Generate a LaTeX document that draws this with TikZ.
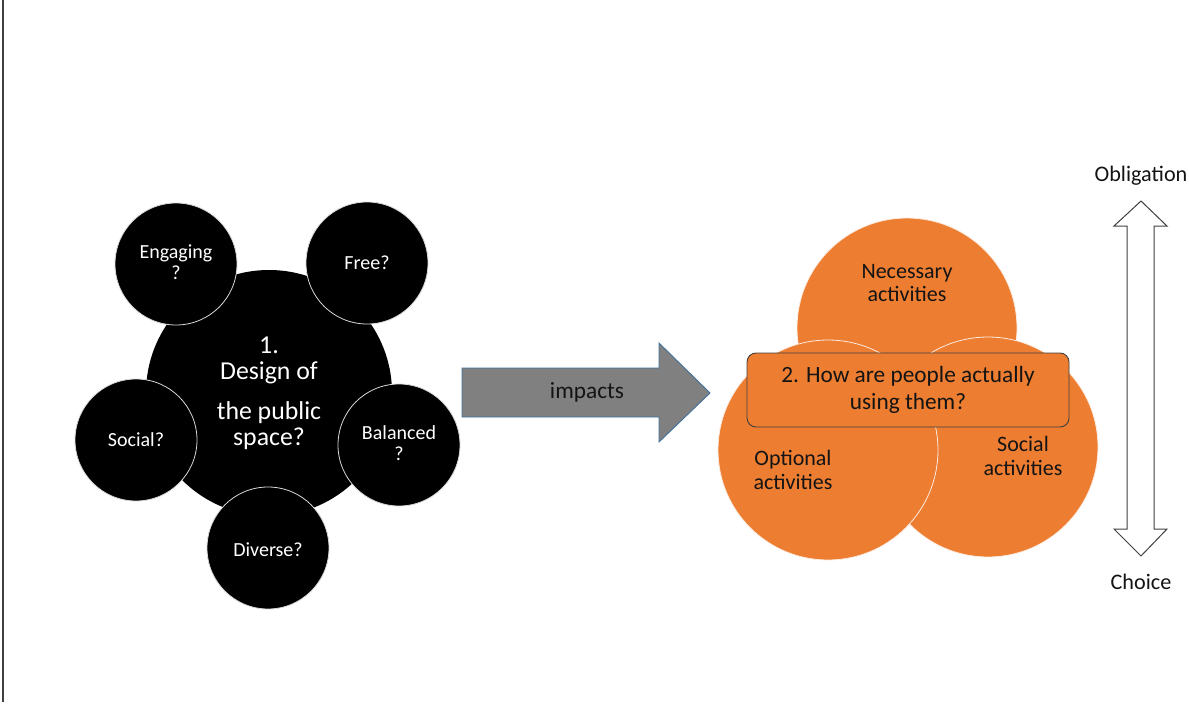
\documentclass[tikz,border=0pt]{standalone}
\usepackage{fontspec}
\setmainfont{Carlito}
\definecolor{orng}{RGB}{237,125,49}
\definecolor{arrowfill}{RGB}{128,128,128}
\definecolor{arrowedge}{RGB}{65,113,156}
\definecolor{txt}{RGB}{20,20,20}
\begin{document}
\begin{tikzpicture}[x=1pt,y=-1pt,
  bigc/.style={circle,fill=black,inner sep=0pt,minimum size=246pt},
  smallc/.style={circle,fill=black,draw=white!70!gray,line width=0.8pt,inner sep=0pt,minimum size=122pt},
  wtxt/.style={text=white,align=center,font=\fontsize{20}{21.5}\selectfont},
  orc/.style={circle,fill=orng,draw=white!85!orng,line width=0.8pt,inner sep=0pt,minimum size=220pt},
  otxt/.style={text=txt,align=center,font=\fontsize{22}{23.5}\selectfont},
  qbox/.style={rectangle,rounded corners=9pt,fill=orng,draw=black!75,line width=0.9pt,minimum width=322pt,minimum height=74pt,align=center,text=txt,font=\fontsize{23.3}{27}\selectfont},
  impactarrow/.style={fill=arrowfill,draw=arrowedge,line width=0.9pt,line join=miter},
  dblarrow/.style={fill=white,draw=black!75,line width=1pt,line join=miter},
  axtxt/.style={text=txt,font=\fontsize{22.2}{26}\selectfont}]
\useasboundingbox (0,0) rectangle (1189,704);
\draw[line width=1.3pt,black!75] (3,0) -- (3,702);
% left cluster
\node[bigc,text=white,align=center,font=\fontsize{25.8}{26}\selectfont] (design) at (269,393) {1.\\Design of\\[14pt]the public\\space?};
\node[smallc] (engaging) at (176,264) {};
\node[smallc] (free) at (367,263) {};
\node[smallc] (social) at (136,440) {};
\node[smallc] (balanced) at (399,445) {};
\node[smallc] (diverse) at (268,548) {};
\node[wtxt] (tengaging) at (176,262) {Engaging\\?};
\node[wtxt] (tfree) at (367,263) {Free?};
\node[wtxt] (tsocial) at (136,440) {Social?};
\node[wtxt] (tbalanced) at (399,443) {Balanced\\?};
\node[wtxt] (tdiverse) at (268,550) {Diverse?};
% impacts arrow
\draw[impactarrow] (462,368) -- (659,368) -- (659,343) -- (710,393) -- (659,442) -- (659,417) -- (462,417) -- cycle;
\node[text=txt,font=\fontsize{23.3}{26}\selectfont] (impacts) at (587,392) {impacts};
% orange circles
\node[orc] (necessary) at (907,328) {};
\node[orc] (socialact) at (988,447) {};
\node[orc] (optional) at (828,450) {};
\node[otxt] (tnecessary) at (907,283) {Necessary\\activities};
\node[otxt] (toptional) at (793,470) {Optional\\activities};
\node[otxt] (tsocialact) at (1023,456) {Social\\activities};
\node[qbox] (question) at (908,390) {2. How are people actually\\using them?};
% obligation / choice arrow
\draw[dblarrow] (1141,201) -- (1167,226) -- (1154,226) -- (1154,529) -- (1167,529) -- (1141,556) -- (1114,529) -- (1127,529) -- (1127,226) -- (1114,226) -- cycle;
\node[axtxt] (obligation) at (1141,176) {Obligation};
\node[axtxt] (choice) at (1141,582) {Choice};
\end{tikzpicture}
\end{document}
